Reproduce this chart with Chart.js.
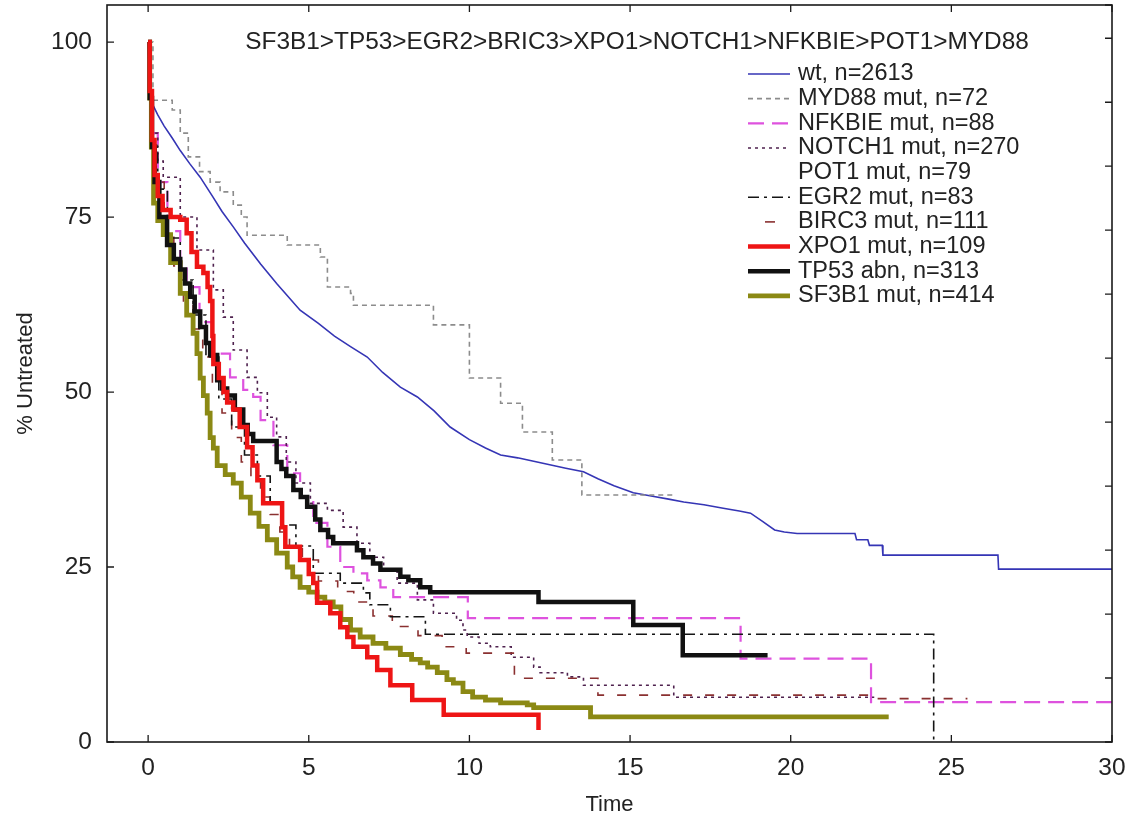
<!DOCTYPE html>
<html><head><meta charset="utf-8">
<script src="https://cdn.jsdelivr.net/npm/chart.js@4.4.1/dist/chart.umd.min.js"></script>
<style>html,body{margin:0;padding:0;background:#fff;}canvas{display:block;}</style>
</head><body>
<canvas id="c" width="1129" height="821"></canvas>
<script>
const FONT = '"Liberation Sans", Arial, sans-serif';
const xTicks = [0, 5, 10, 15, 20, 25, 30];
const yTicks = [0, 25, 50, 75, 100];
const chartTitle = 'SF3B1>TP53>EGR2>BRIC3>XPO1>NOTCH1>NFKBIE>POT1>MYD88';
const seriesNames = ['wt, n=2613', 'MYD88 mut, n=72', 'NFKBIE mut, n=88', 'NOTCH1 mut, n=270',
  'POT1 mut, n=79', 'EGR2 mut, n=83', 'BIRC3 mut, n=111', 'XPO1 mut, n=109', 'TP53 abn, n=313', 'SF3B1 mut, n=414'];

// wt (drawn as straight segments, explicit steps)
const wtTime = [0,0.05,0.12,0.3,0.5,0.75,1,1.3,1.62,2,2.3,2.65,3,3.5,4,4.73,5.3,5.8,6.3,6.82,7.3,7.85,8.38,8.9,9.4,10,10.5,10.97,11.5,12,12.5,13,13.55,14,14.5,15.1,15.7,16.2,16.67,17.3,17.9,18.4,18.75,19.1,19.5,19.8,20.2,22.0,22.05,22.4,22.45,22.85,22.87,26.45,26.47,30];
const wtPct  = [100,94,91.3,89.6,88,86.3,84.5,82.6,80.7,78,75.8,73.6,71.3,68.3,65.5,61.7,59.8,58,56.5,55,52.8,50.7,49.3,47.3,45,43.2,42,41,40.6,40.1,39.6,39.1,38.6,37.6,36.6,35.6,35.1,34.7,34.3,33.9,33.4,33.0,32.7,31.6,30.3,30.0,29.8,29.8,28.9,28.9,28.1,28.1,26.7,26.7,24.7,24.7];

// step series: value after the drop at each time
const myd88Time = [0,0.15,0.75,1.0,1.25,1.6,1.93,2.24,2.65,2.9,3.08,4.33,5.36,5.58,6.3,6.39,8.88,10.0,10.97,11.65,12.58,13.5,16.35];
const myd88Pct  = [100,91.7,90.3,87,83.6,81.5,80,78.6,76.7,75,72.4,71,69.3,65,64.1,62.4,59.6,52,48.4,44.3,40.3,35.3,35.3];

const nfkbieTime = [0,0.05,0.12,0.3,0.6,1.0,1.2,1.6,2.0,2.55,2.96,3.27,3.5,3.9,4.33,4.73,5.14,5.58,5.98,6.39,6.82,7.23,7.63,9.95,18.44,22.5,30];
const nfkbiePct  = [100,93,87,80,73,68,65,60,55.5,52.1,50.3,49.3,46,42.4,38.4,35,31.3,27.9,25,24.1,23.1,22.1,20.7,17.7,11.9,5.7,5.7];

const notch1Time = [0,0.05,0.15,0.3,0.47,1.0,1.52,2.03,2.34,2.65,3.08,3.4,3.71,4.0,4.3,4.6,5.05,5.58,6.07,6.5,6.9,7.33,7.75,8.38,8.88,9.6,9.8,9.93,10.3,10.65,11.3,12.0,12.2,13.05,13.55,16.36,22.6];
const notch1Pct  = [100,93,87,83,80.7,75,70.3,64.6,60.7,56,52.1,49.9,46.4,43.6,40,37,34.1,33.1,30.7,28.4,26.4,24.6,22.7,20.3,18.4,17.4,16,15,14.1,13.6,12.1,10.7,9.9,9.3,8.1,6.4,6.4];

const pot1Time = [];
const pot1Pct  = [];

const egr2Time = [0,0.05,0.12,0.3,0.6,1.0,1.4,1.8,2.2,2.6,3.0,3.4,3.8,4.2,4.6,5.14,5.98,6.7,6.9,7.54,8.07,8.63,24.45];
const egr2Pct  = [100,92,85,79,72,66,61,55,49,45,41,38,34,31,28,24.1,22.7,21.3,19.6,17.9,17.9,15.4,0];

const birc3Time = [0,0.05,0.12,0.25,0.5,0.8,1.1,1.4,1.7,2.0,2.3,2.6,2.9,3.2,3.5,3.8,4.1,4.4,4.8,5.3,5.9,6.4,7.0,7.6,8.4,9.15,9.9,11.4,14.0,22.5,25.5];
const birc3Pct  = [100,93,86,80,73,68,63,59,55,51,47,43.5,40,37.5,35,32.5,30,28,26,23,21.5,20,18,16.5,15.2,13.6,12.7,9.1,6.7,6.2,6.2];

const xpo1Time = [0,0.05,0.12,0.2,0.3,0.45,0.7,1.0,1.2,1.35,1.52,1.72,1.85,1.93,2.0,2.03,2.2,2.35,2.46,2.65,2.85,3.08,3.25,3.4,3.58,4.17,4.27,4.73,5.0,5.14,5.26,5.67,5.98,6.2,6.39,6.82,7.13,7.54,8.22,9.2,12.15];
const xpo1Pct  = [100,93,86,81,78,76,75,74.6,72.7,70,67.9,67,65,63,58,54,52,50,48.5,47.5,45,42.1,39.5,37.4,34.1,30.7,27.9,26,24,22.7,19.9,18.4,16.4,15,13.6,12.1,10.3,8.1,6,3.9,1.7];

const tp53Time = [0,0.05,0.12,0.2,0.35,0.59,0.8,1.0,1.15,1.31,1.45,1.62,1.8,1.93,2.15,2.3,2.46,2.7,2.96,3.1,3.27,4.0,4.15,4.3,4.52,4.75,4.95,5.2,5.36,5.6,5.76,6.5,6.7,7.0,7.23,7.85,8.1,8.47,8.78,12.15,15.1,16.64,19.28];
const tp53Pct  = [100,92,85,80,75,71,69,67.5,65.5,63.6,61.5,59.3,57,55.3,51.7,50.5,49.5,47.5,45.3,44,43,40,39,38,36,35,33.6,31.8,30.3,29.3,28.4,27.4,26.4,25.5,24.6,23.6,23.1,22.1,21.4,20,16.7,12.4,12.4];

const sf3b1Time = [0,0.05,0.1,0.17,0.3,0.47,0.7,1.0,1.2,1.4,1.52,1.62,1.72,1.84,1.93,2.03,2.15,2.4,2.65,2.9,3.18,3.45,3.71,4.0,4.33,4.5,4.73,5.0,5.26,5.5,5.76,6.0,6.3,6.6,7.0,7.4,7.85,8.2,8.47,8.7,9.0,9.3,9.5,9.8,10.1,10.5,10.97,11.8,12.0,13.77,23.05];
const sf3b1Pct  = [100,92,85,77,74.5,72.5,68.5,64.1,61,58.4,55.5,52,49.5,47,43.5,42,39.5,38.2,37,35,32.7,30.8,28.9,27,25,23.6,22.1,21.4,20.7,20,19.3,17.5,16,15,14.1,13.4,12.5,11.8,11.3,10.7,9.9,8.9,8.4,7.2,6.4,6.0,5.6,5.3,4.9,3.6,3.6];

const pts = (t, v) => t.map((tt, i) => ({x: tt, y: v[i]}));

const datasets = [
  {label: seriesNames[0], data: pts(wtTime, wtPct), borderColor: '#3535b5', borderWidth: 1.6, stepped: false, order: 9},
  {label: seriesNames[1], data: pts(myd88Time, myd88Pct), borderColor: '#8c8c8c', borderWidth: 1.6, borderDash: [5, 4], stepped: true, order: 8},
  {label: seriesNames[2], data: pts(nfkbieTime, nfkbiePct), borderColor: '#de52de', borderWidth: 2.2, borderDash: [16, 8], stepped: true, order: 7},
  {label: seriesNames[3], data: pts(notch1Time, notch1Pct), borderColor: '#4f224f', borderWidth: 1.6, borderDash: [3, 4], stepped: true, order: 6},
  {label: seriesNames[4], data: pts(pot1Time, pot1Pct), borderColor: 'rgba(0,0,0,0)', borderWidth: 0, stepped: true, order: 10},
  {label: seriesNames[5], data: pts(egr2Time, egr2Pct), borderColor: '#151515', borderWidth: 1.6, borderDash: [11, 5, 3, 5], stepped: true, order: 4},
  {label: seriesNames[6], data: pts(birc3Time, birc3Pct), borderColor: '#8a3030', borderWidth: 1.6, borderDash: [9, 13], sampleDash: [10, 100], sampleOffset: -17, stepped: true, order: 5},
  {label: seriesNames[7], data: pts(xpo1Time, xpo1Pct), borderColor: '#ee1515', borderWidth: 4.5, stepped: true, order: 1},
  {label: seriesNames[8], data: pts(tp53Time, tp53Pct), borderColor: '#111111', borderWidth: 4.5, stepped: true, order: 2},
  {label: seriesNames[9], data: pts(sf3b1Time, sf3b1Pct), borderColor: '#8b8914', borderWidth: 4.8, stepped: true, order: 3}
];
datasets.forEach(d => { d.pointRadius = 0; d.fill = false; d.tension = 0; });

const frameAndText = {
  id: 'frameAndText',
  afterDraw(chart) {
    const {ctx, chartArea: a, scales: {x, y, y2}} = chart;
    ctx.save();
    ctx.strokeStyle = '#1a1a1a';
    ctx.lineWidth = 1.6;
    ctx.strokeRect(a.left, a.top, a.right - a.left, a.bottom - a.top);
    ctx.lineWidth = 1.3;
    ctx.beginPath();
    x.ticks.forEach(t => {
      const px = x.getPixelForValue(t.value);
      ctx.moveTo(px, a.bottom); ctx.lineTo(px, a.bottom - 7);
      ctx.moveTo(px, a.top); ctx.lineTo(px, a.top + 7);
    });
    y.ticks.forEach(t => {
      const py = y.getPixelForValue(t.value);
      ctx.moveTo(a.left, py); ctx.lineTo(a.left + 7, py);
    });
    y2.ticks.forEach(t => {
      const py = y2.getPixelForValue(t.value);
      ctx.moveTo(a.right, py); ctx.lineTo(a.right - 7, py);
    });
    ctx.stroke();
    ctx.fillStyle = '#222';
    ctx.font = '24.4px ' + FONT;
    ctx.textAlign = 'center';
    ctx.textBaseline = 'middle';
    ctx.fillText(chartTitle, a.left + 530, a.top + 37);
    ctx.font = '23.5px ' + FONT;
    ctx.textAlign = 'left';
    chart.data.datasets.forEach((ds, i) => {
      const yy = a.top + 69 + i * 24.65;
      const x0 = a.left + 641, x1 = a.left + 683;
      if (ds.borderWidth > 0) {
        ctx.save();
        ctx.strokeStyle = ds.borderColor;
        ctx.lineWidth = ds.borderWidth;
        ctx.setLineDash(ds.sampleDash || ds.borderDash || []);
        ctx.lineDashOffset = ds.sampleOffset || 0;
        ctx.beginPath(); ctx.moveTo(x0, yy); ctx.lineTo(x1, yy); ctx.stroke();
        ctx.restore();
      }
      ctx.fillText(ds.label, a.left + 691, yy);
    });
    ctx.restore();
  }
};

const noPad = s => { s.paddingTop = 0; s.paddingBottom = 0; s.paddingLeft = 0; s.paddingRight = 0; };

new Chart(document.getElementById('c'), {
  type: 'line',
  data: {datasets},
  options: {
    responsive: false,
    devicePixelRatio: 1,
    animation: false,
    layout: {padding: {left: 0, right: 17, top: 5, bottom: 0}},
    plugins: {legend: {display: false}, tooltip: {enabled: false}, title: {display: false}},
    scales: {
      x: {
        type: 'linear', min: -1.28, max: 30,
        afterBuildTicks: s => { s.ticks = xTicks.map(v => ({value: v})); },
        grid: {display: false, drawTicks: false}, border: {display: false},
        ticks: {font: {size: 24.5, family: FONT}, color: '#222', padding: 12, maxRotation: 0, autoSkip: false},
        title: {display: true, text: 'Time', font: {size: 22, family: FONT}, color: '#222', padding: 3},
        afterFit: s => { s.height = 79; noPad(s); }
      },
      y: {
        type: 'linear', min: 0, max: 105.3,
        afterBuildTicks: s => { s.ticks = yTicks.map(v => ({value: v})); },
        grid: {display: false, drawTicks: false}, border: {display: false},
        ticks: {font: {size: 24.5, family: FONT}, color: '#222', padding: 15},
        title: {display: true, text: '% Untreated', font: {size: 22, family: FONT}, color: '#222', padding: 13},
        afterFit: s => { s.width = 107; noPad(s); }
      },
      y2: {
        type: 'linear', position: 'right', min: 0, max: 11.52,
        ticks: {display: false, stepSize: 1},
        grid: {display: false, drawTicks: false}, border: {display: false},
        afterFit: s => { s.width = 0; noPad(s); }
      }
    }
  },
  plugins: [frameAndText]
});
</script>
</body></html>
